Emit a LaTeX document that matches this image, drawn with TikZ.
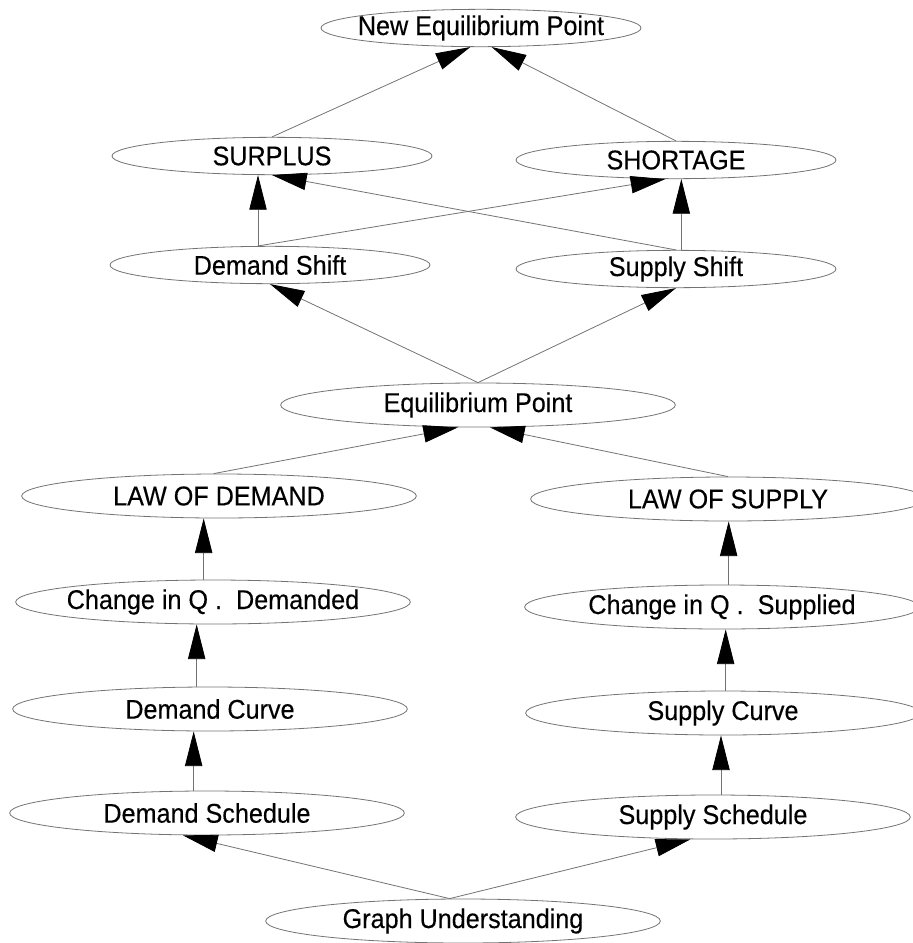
\documentclass[tikz,border=0pt]{standalone}
\usepackage{fontspec}
\setmainfont{Liberation Sans}[FakeStretch=0.93,FakeBold=0.3]
\usetikzlibrary{shapes.geometric,arrows.meta}
\begin{document}
\begin{tikzpicture}[x=0.75pt,y=-0.75pt,
  ell/.style={ellipse, draw=black!55, line width=0.6pt, inner xsep=-40pt, inner ysep=-4pt,
    font=\fontsize{20.3pt}{23pt}\selectfont},
  sm/.style={ell, minimum width=240pt, minimum height=28pt},
  lg/.style={ell, minimum width=296pt, minimum height=33pt},
  conn/.style={draw=black!55, line width=0.6pt, -{Triangle[length=26pt,width=13pt,color=black]}}]
\useasboundingbox (0,0) rectangle (913,943);
% nodes
\node[sm] (nep) at (481,28) {New Equilibrium Point};
\node[sm] (surplus) at (272,156) {SURPLUS};
\node[sm] (shortage) at (676,160) {SHORTAGE};
\node[sm] (dshift) at (270,265) {Demand Shift};
\node[sm] (sshift) at (676,269) {Supply Shift};
\node[lg] (eqp) at (478,405) {Equilibrium Point};
\node[lg] (lod) at (219,496) {LAW OF DEMAND};
\node[lg] (los) at (728,499) {LAW OF SUPPLY};
\node[lg] (cqd) at (213,602) {Change in Q .~~Demanded};
\node[lg] (cqs) at (722,607) {Change in Q .~~Supplied};
\node[lg] (dc) at (210,709) {Demand Curve};
\node[lg] (sc) at (723,713) {Supply Curve};
\node[lg] (dsch) at (207,813) {Demand Schedule};
\node[lg] (ssch) at (713,817) {Supply Schedule};
\node[lg] (gu) at (463,921) {Graph Understanding};
% connectors
\draw[conn] (surplus.north) -- ([xshift=-8pt]nep.south);
\draw[conn] (shortage.north) -- ([xshift=8pt]nep.south);
\draw[conn] ([xshift=-9pt]dshift.north) -- ([xshift=-9pt]dshift.north |- surplus.south);
\draw[conn] (sshift.north) -- (surplus.south);
\draw[conn] ([xshift=-9pt]dshift.north) -- ([xshift=-8pt]shortage.south);
\draw[conn] ([xshift=4pt]sshift.north) -- ([xshift=4pt]sshift.north |- shortage.south);
\draw[conn] (eqp.north) -- (dshift.south);
\draw[conn] (eqp.north) -- (sshift.south);
\draw[conn] ([xshift=-4pt]lod.north) -- ([xshift=-15pt]eqp.south);
\draw[conn] (los.north) -- ([xshift=9pt]eqp.south);
\draw[conn] ([xshift=-7pt]cqd.north) -- ([xshift=-7pt]cqd.north |- lod.south);
\draw[conn] ([xshift=-10pt]dc.north) -- ([xshift=-10pt]dc.north |- cqd.south);
\draw[conn] ([xshift=-10pt]dsch.north) -- ([xshift=-10pt]dsch.north |- dc.south);
\draw[conn] ([xshift=5pt]cqs.north) -- ([xshift=5pt]cqs.north |- los.south);
\draw[conn] ([xshift=2pt]sc.north) -- ([xshift=2pt]sc.north |- cqs.south);
\draw[conn] ([xshift=6pt]ssch.north) -- ([xshift=6pt]ssch.north |- sc.south);
\draw[conn] ([xshift=-10pt]gu.north) -- ([xshift=-18pt]dsch.south);
\draw[conn] ([xshift=-10pt]gu.north) -- ([xshift=-17pt]ssch.south);
\end{tikzpicture}
\end{document}
